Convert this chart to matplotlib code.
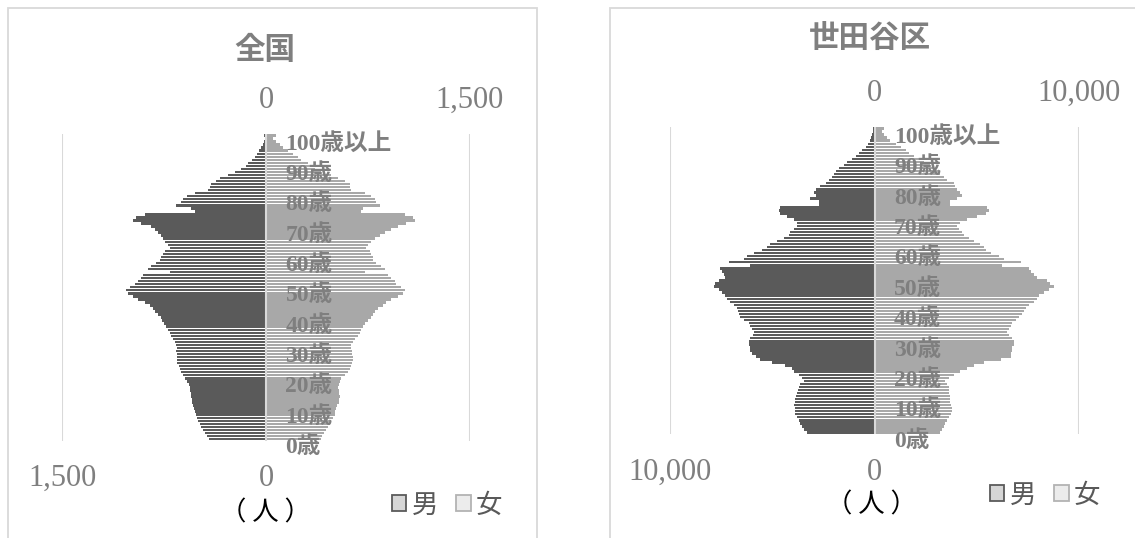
import matplotlib.pyplot as plt
from matplotlib.patches import Patch, Rectangle

plt.rcParams['font.family'] = ['Liberation Serif', 'Noto Sans CJK JP']

ages = list(range(101))
age_ticks = [0, 10, 20, 30, 40, 50, 60, 70, 80, 90, 100]
age_labels = ['0歳', '10歳', '20歳', '30歳', '40歳', '50歳', '60歳', '70歳', '80歳', '90歳', '100歳以上']

# 全国 (age 0 .. 100歳以上)
zenkoku_male = [
    422, 432, 447, 464, 476, 488, 500, 508, 517, 525,
    530, 537, 544, 544, 549, 554, 561, 561, 568, 578,
    593, 610, 623, 635, 642, 652, 657, 657, 652, 659,
    652, 659, 672, 684, 696, 709, 721, 733, 750, 762,
    774, 794, 819, 831, 855, 892, 941, 978, 1015, 1027,
    1002, 966, 941, 917, 904, 709, 868, 843, 806, 782,
    770, 758, 745, 709, 721, 745, 758, 770, 794, 819,
    843, 917, 978, 953, 892, 525, 550, 659, 623, 611,
    579, 525, 427, 414, 402, 365, 340, 280, 230, 182,
    150, 132, 103, 83, 64, 49, 34, 24, 17, 10,
    14,
]
zenkoku_female = [
    402, 412, 427, 444, 456, 468, 481, 493, 505, 510,
    518, 525, 535, 535, 542, 535, 535, 530, 535, 542,
    554, 578, 603, 615, 627, 632, 640, 640, 632, 632,
    627, 627, 640, 652, 676, 688, 701, 713, 725, 750,
    769, 786, 799, 823, 860, 884, 921, 970, 1006, 1019,
    994, 957, 945, 921, 896, 725, 872, 847, 810, 786,
    786, 774, 762, 737, 750, 774, 799, 835, 872, 921,
    970, 1030, 1092, 1079, 1019, 700, 715, 835, 810, 799,
    774, 725, 627, 615, 615, 578, 527, 478, 406, 357,
    330, 309, 260, 235, 198, 162, 125, 100, 76, 51,
    76,
]

# 世田谷区 (age 0 .. 100歳以上)
setagaya_male = [
    3325, 3423, 3538, 3619, 3701, 3782, 3864, 3897, 3864, 3913,
    3864, 3864, 3815, 3782, 3749, 3701, 3619, 3456, 3538, 3701,
    3945, 4027, 4353, 5004, 5575, 5819, 5982, 6064, 6096, 6145,
    6145, 6064, 5934, 5901, 5982, 6064, 6145, 6390, 6553, 6634,
    6683, 6716, 6879, 7042, 7205, 7287, 7450, 7613, 7857, 7776,
    7613, 7287, 7368, 7450, 7531, 6064, 7124, 6390, 6227, 5901,
    5494, 5249, 5086, 4760, 4434, 4190, 4108, 3945, 3782, 3782,
    3945, 4271, 4597, 4679, 4597, 2722, 2722, 3130, 2885, 2967,
    2885, 2641, 2396, 2233, 2070, 1989, 1907, 1744, 1500, 1337,
    1092, 929, 766, 603, 440, 326, 228, 163, 114, 65,
    82,
]
setagaya_female = [
    3227, 3308, 3390, 3471, 3553, 3634, 3749, 3797, 3797, 3749,
    3716, 3684, 3684, 3634, 3634, 3634, 3553, 3471, 3634, 3879,
    4205, 4531, 4857, 5346, 6162, 6651, 6651, 6733, 6733, 6814,
    6814, 6733, 6570, 6488, 6570, 6651, 6733, 6896, 7059, 7222,
    7303, 7385, 7548, 7792, 7955, 8036, 8280, 8525, 8769, 8606,
    8443, 7955, 7792, 7629, 7548, 6243, 7140, 6325, 6080, 5673,
    5428, 5346, 5183, 4857, 4612, 4368, 4286, 4123, 4042, 4205,
    4531, 5021, 5428, 5591, 5510, 3716, 3716, 4042, 4286, 4205,
    4042, 3960, 3879, 3553, 3390, 3227, 3146, 2901, 2738, 2412,
    2168, 1923, 1679, 1516, 1272, 1027, 782, 619, 456, 375,
    456,
]

zenkoku_limit, zenkoku_limit_label = 1500, '1,500'
setagaya_limit, setagaya_limit_label = 10000, '10,000'

male_color = '#5a5a5a'
female_color = '#a8a8a8'
text_grey = '#7f7f7f'
line_grey = '#d9d9d9'
cjk = ['Noto Sans CJK JP', 'DejaVu Sans']

fig = plt.figure(figsize=(11.35, 5.38), dpi=100)

# panel frames
fig.add_artist(Rectangle((8 / 1135, -0.05), 529 / 1135, 1.05 - 8 / 538, transform=fig.transFigure,
                         fill=False, edgecolor=line_grey, lw=1.3))
fig.add_artist(Rectangle((610 / 1135, -0.05), 0.6, 1.05 - 8 / 538, transform=fig.transFigure,
                         fill=False, edgecolor=line_grey, lw=1.3))


def draw_panel(rect, title, title_xy, male, female, limit, limit_label, unit_xy, legend_xy):
    ax = fig.add_axes(rect)
    ax.barh(ages, [-v for v in male], height=0.8, color=male_color, lw=0, zorder=2)
    ax.barh(ages, female, height=0.8, color=female_color, lw=0, zorder=2)
    ax.set_xlim(-limit, limit)
    ax.set_ylim(-0.5, 100.5)
    for x in (-limit, limit):
        ax.axvline(x, color=line_grey, lw=1.5, zorder=1)
    ax.axvline(0, color=line_grey, lw=1.5, zorder=3)
    for s in ax.spines.values():
        s.set_visible(False)
    ax.set_yticks([])
    ax.set_xticks([-limit, 0], [limit_label, '0'])
    ax.tick_params(axis='x', length=0, labelsize=22, labelcolor=text_grey, pad=17)

    top = ax.secondary_xaxis('top')
    top.set_xticks([0, limit], ['0', limit_label])
    top.tick_params(length=0, labelsize=22, labelcolor=text_grey, pad=14)
    for s in top.spines.values():
        s.set_visible(False)

    for a, lab in zip(age_ticks, age_labels):
        ax.annotate(lab, (0, a), xytext=(14, -6), textcoords='offset points',
                    ha='left', va='center', fontsize=17, fontweight='bold',
                    color=text_grey, zorder=5, annotation_clip=False)

    fig.text(title_xy[0], title_xy[1], title, ha='center', va='center', fontsize=22,
             fontweight='bold', color=text_grey, family=cjk)
    fig.text(unit_xy[0], unit_xy[1], '（ 人 ）', ha='center', va='center', fontsize=19,
             color='black', family=cjk)

    handles = [Patch(facecolor='#d6d6d6', edgecolor=male_color, lw=1.3, label='男'),
               Patch(facecolor='#ececec', edgecolor='#b3b3b3', lw=1.3, label='女')]
    fig.legend(handles=handles, loc='center', bbox_to_anchor=legend_xy, ncol=2, frameon=False,
               handlelength=0.55, handleheight=0.55, handletextpad=0.2, columnspacing=0.7,
               prop={'family': cjk, 'size': 19}, labelcolor='#595959')


draw_panel([62 / 1135, 1 - 440.5 / 538, 408 / 1135, 306.5 / 538], '全国', (265 / 1135, 1 - 50 / 538),
           zenkoku_male, zenkoku_female, zenkoku_limit, zenkoku_limit_label,
           (265 / 1135, 1 - 513 / 538), (447 / 1135, 1 - 505 / 538))
draw_panel([670 / 1135, 1 - 434 / 538, 409 / 1135, 307 / 538], '世田谷区', (870 / 1135, 1 - 38 / 538),
           setagaya_male, setagaya_female, setagaya_limit, setagaya_limit_label,
           (871 / 1135, 1 - 505 / 538), (1045 / 1135, 1 - 495 / 538))

fig.savefig('out.png', dpi=100)
